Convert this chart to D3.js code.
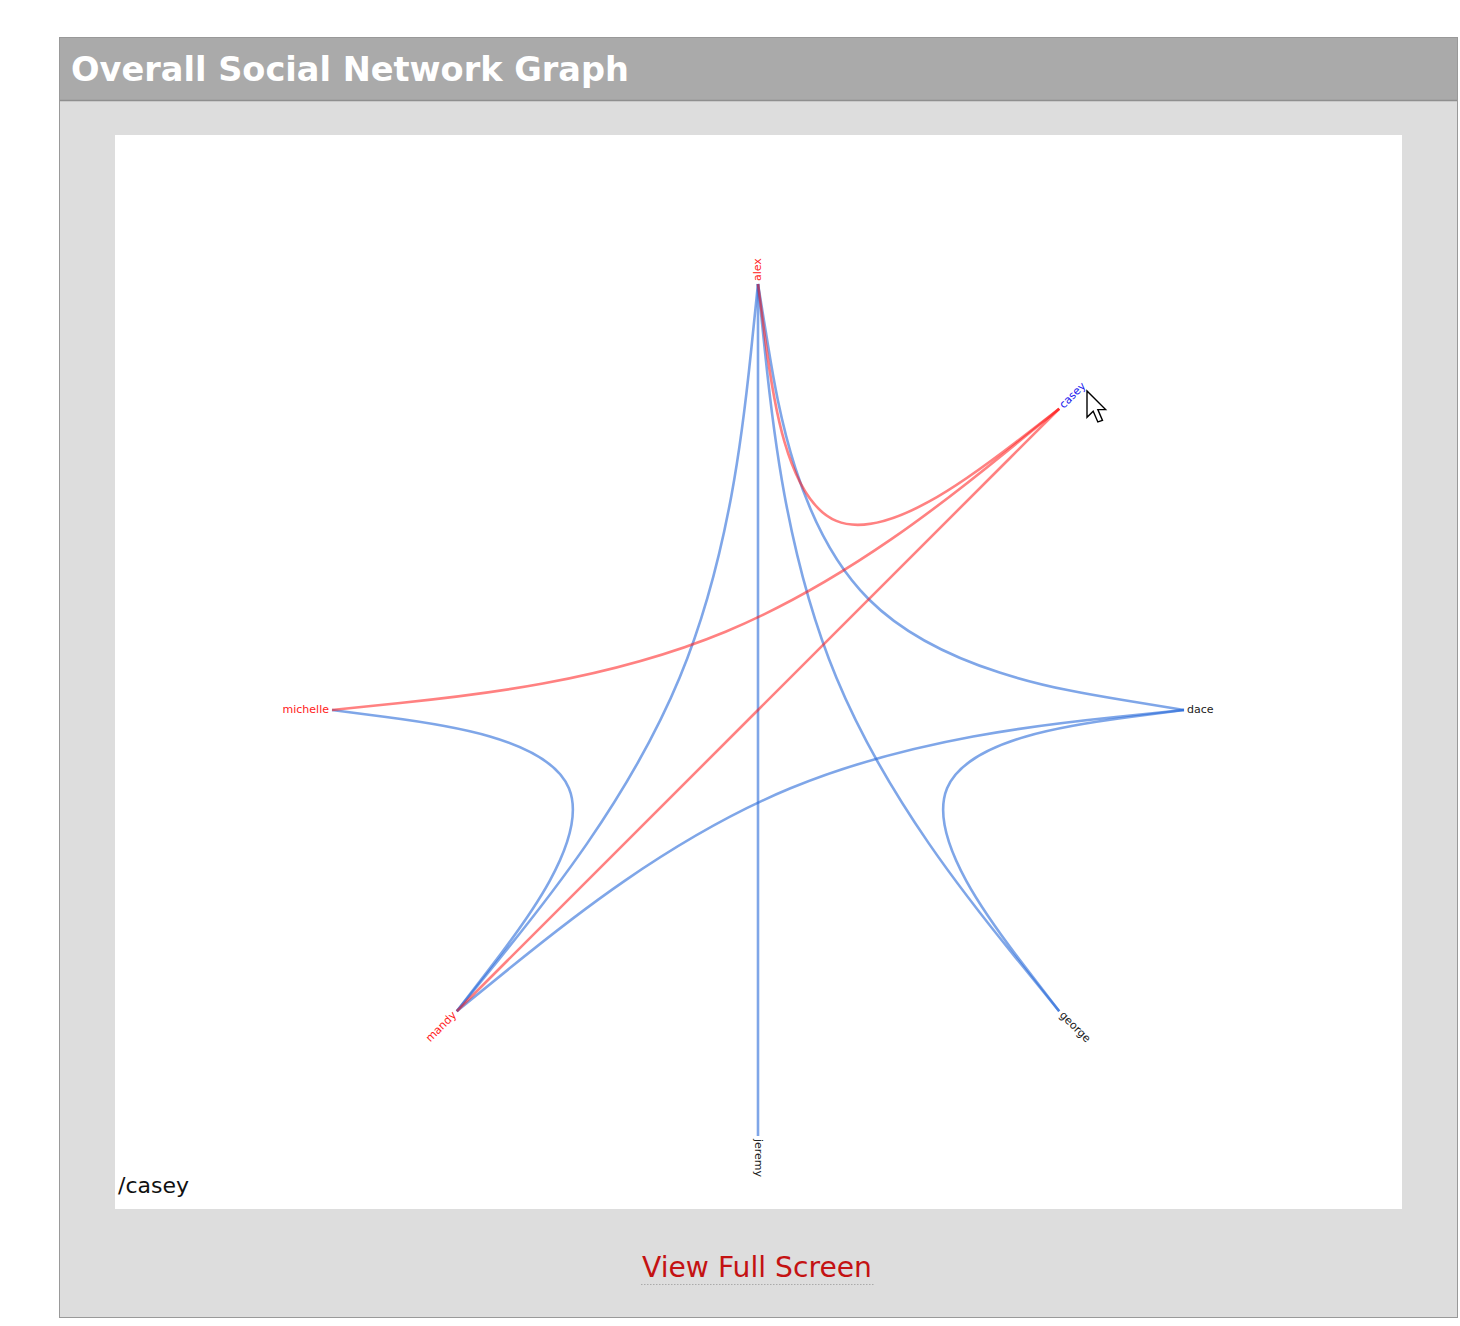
<!DOCTYPE html>
<html>
<head>
<meta charset="utf-8">
<script src="https://cdn.jsdelivr.net/npm/d3@7"></script>
<style>
  html, body { margin: 0; padding: 0; background: #fff; }
  svg { display: block; }
</style>
</head>
<body>
<svg id="chart" width="1460" height="1326"></svg>
<script>
// ---- data ----
const title = "Overall Social Network Graph";
const nodeNames = ["alex", "casey", "dace", "george", "jeremy", "mandy", "michelle"];
const slotCount = 8; // eight evenly spaced slots around the ring, last one empty
const links = [
  ["alex", "casey"],
  ["alex", "dace"],
  ["alex", "george"],
  ["alex", "jeremy"],
  ["alex", "mandy"],
  ["casey", "michelle"],
  ["casey", "mandy"],
  ["dace", "george"],
  ["dace", "mandy"],
  ["michelle", "mandy"]
];
const hovered = "casey";
const linkText = "View Full Screen";

// ---- layout ----
const svg = d3.select("#chart");
const cx = 758, cy = 710, R = 426;

// panel
svg.append("rect").attr("x", 59.5).attr("y", 37.5).attr("width", 1398).attr("height", 1280)
  .attr("fill", "#dddddd").attr("stroke", "#999").attr("stroke-width", 1);
svg.append("rect").attr("x", 59.5).attr("y", 37.5).attr("width", 1398).attr("height", 63)
  .attr("fill", "#aaaaaa").attr("stroke", "#999").attr("stroke-width", 1);
svg.append("line").attr("x1", 60).attr("x2", 1457).attr("y1", 100.5).attr("y2", 100.5)
  .attr("stroke", "#8f8f8f").attr("stroke-width", 1.5);
svg.append("text").attr("x", 71).attr("y", 81)
  .attr("font-family", "DejaVu Sans, Verdana, sans-serif").attr("font-weight", "bold")
  .attr("font-size", 33.6).attr("fill", "#fff").text(title);

// white chart area
svg.append("rect").attr("x", 115).attr("y", 135).attr("width", 1287).attr("height", 1074)
  .attr("fill", "#fff");

// footer link
svg.append("text").attr("x", 757).attr("y", 1277).attr("text-anchor", "middle")
  .attr("font-family", "DejaVu Sans, Verdana, sans-serif").attr("font-size", 28.2)
  .attr("fill", "#c41212").text(linkText);
svg.append("line").attr("x1", 641).attr("x2", 875).attr("y1", 1284.5).attr("y2", 1284.5)
  .attr("stroke", "#aaa").attr("stroke-width", 1).attr("stroke-dasharray", "1.5,1.5");

// status text
svg.append("text").attr("x", 118).attr("y", 1193)
  .attr("font-family", "DejaVu Sans, sans-serif").attr("font-size", 22)
  .attr("fill", "#111").text("/" + hovered);

// angle scale
const angle = d3.scaleLinear().domain([0, slotCount]).range([0, 2 * Math.PI]);
const nodes = nodeNames.map((name, i) => ({ name, i, a: angle(i), deg: angle(i) * 180 / Math.PI }));
const byName = new Map(nodes.map(n => [n.name, n]));
const center = { a: 0, r: 0 };

const line = d3.lineRadial()
  .curve(d3.curveBundle.beta(0.72))
  .radius(d => d.r)
  .angle(d => d.a);

const g = svg.append("g").attr("transform", `translate(${cx},${cy})`);

const linkData = links.map(([s, t]) => ({
  s: byName.get(s), t: byName.get(t),
  hot: s === hovered || t === hovered
}));

g.append("g").selectAll("path")
  .data(linkData.filter(d => !d.hot).concat(linkData.filter(d => d.hot)))
  .join("path")
  .attr("d", d => line([{ a: d.s.a, r: R }, center, { a: d.t.a, r: R }]))
  .attr("fill", "none")
  .attr("stroke", d => d.hot ? "#ff1a1a" : "#2a6ad8")
  .attr("stroke-opacity", d => d.hot ? 0.55 : 0.6)
  .attr("stroke-width", 2.6);

// neighbor set
const neighbors = new Set();
links.forEach(([s, t]) => {
  if (s === hovered) neighbors.add(t);
  if (t === hovered) neighbors.add(s);
});

g.append("g").selectAll("text")
  .data(nodes)
  .join("text")
  .attr("transform", d => `rotate(${d.deg - 90}) translate(${R + 3},0)` + (d.deg <= 180 ? "" : " rotate(180)"))
  .attr("text-anchor", d => d.deg <= 180 ? "start" : "end")
  .attr("dy", "0.31em")
  .attr("font-family", "DejaVu Sans, sans-serif")
  .attr("font-size", 11)
  .attr("fill", d => d.name === hovered ? "#2222ee" : (neighbors.has(d.name) ? "#ff1a1a" : "#222"))
  .text(d => d.name);

// mouse cursor (screenshot artifact)
const cur = [[0,0],[0,17],[4,13],[7,20],[10,19],[7,12],[12,12]];
svg.append("path")
  .attr("d", d3.line()(cur) + "Z")
  .attr("transform", "translate(1087,391) scale(1.55)")
  .attr("fill", "#fff").attr("stroke", "#000").attr("stroke-width", 0.9)
  .attr("stroke-linejoin", "miter");
</script>
</body>
</html>
